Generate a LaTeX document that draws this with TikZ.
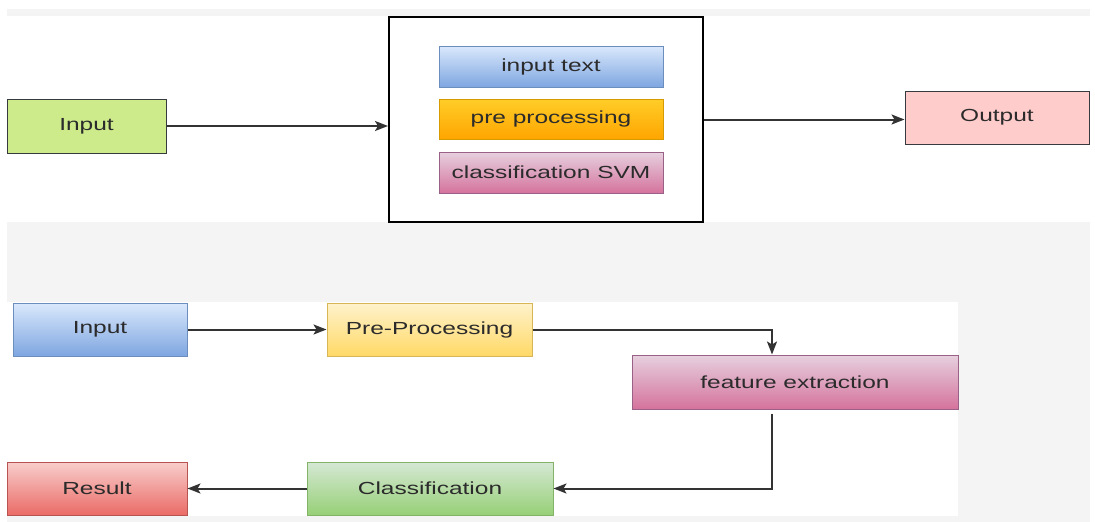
\documentclass[tikz,border=0pt]{standalone}
\usepackage{fontspec}
\setmainfont{Liberation Sans}[FakeStretch=1.4]
\usetikzlibrary{arrows.meta}
\definecolor{bggray}{HTML}{F4F4F4}
\definecolor{txt}{HTML}{2B2B2B}
\definecolor{ln}{HTML}{333333}
\definecolor{dk}{HTML}{36393D}
\definecolor{blueT}{HTML}{DAE8FC}\definecolor{blueB}{HTML}{7EA6E0}\definecolor{blueD}{HTML}{6C8EBF}
\definecolor{orT}{HTML}{FFCD28}\definecolor{orB}{HTML}{FFA500}\definecolor{orD}{HTML}{D79B00}
\definecolor{pkT}{HTML}{E6D0DE}\definecolor{pkB}{HTML}{D5739D}\definecolor{pkD}{HTML}{996185}
\definecolor{yeT}{HTML}{FFF2CC}\definecolor{yeB}{HTML}{FFD966}\definecolor{yeD}{HTML}{D6B656}
\definecolor{rdT}{HTML}{F8CECC}\definecolor{rdB}{HTML}{EA6B66}\definecolor{rdD}{HTML}{B85450}
\definecolor{grT}{HTML}{D5E8D4}\definecolor{grB}{HTML}{97D077}\definecolor{grD}{HTML}{82B366}
\definecolor{lime}{HTML}{CDEB8B}
\definecolor{rose}{HTML}{FFCCCC}
\tikzset{
  box/.style={rectangle, inner sep=0pt, text=txt, font=\fontsize{17.5}{20}\selectfont, line width=1pt},
  bluebox/.style={box, draw=blueD, top color=blueT, bottom color=blueB},
  orbox/.style={box, draw=orD, top color=orT, bottom color=orB},
  pkbox/.style={box, draw=pkD, top color=pkT, bottom color=pkB},
  yebox/.style={box, draw=yeD, top color=yeT, bottom color=yeB},
  rdbox/.style={box, draw=rdD, top color=rdT, bottom color=rdB},
  grbox/.style={box, draw=grD, top color=grT, bottom color=grB},
  conn/.style={draw=ln, line width=2pt, -{Stealth[length=13pt,width=10pt,inset=3pt]}},
}
\begin{document}
\begin{tikzpicture}[x=1pt,y=-1pt]
\useasboundingbox (0,0) rectangle (1095,522);
\fill[white] (0,0) rectangle (1095,522);
\fill[bggray] (7,9) rectangle (1090,522);
\fill[white] (7,16) rectangle (1090,222);
\fill[white] (7,302) rectangle (958,516);

% top diagram
\node[box, draw=dk, fill=lime, minimum width=159pt, minimum height=54pt] (in1) at (86.5,126) {Input};
\node[rectangle, draw=black, fill=white, line width=2pt, minimum width=314pt, minimum height=205pt] (big) at (546,119.5) {};
\node[bluebox, minimum width=224pt, minimum height=41pt] (t1) at (551,66.5) {input text};
\node[orbox, minimum width=224pt, minimum height=40pt] (t2) at (551,119) {pre processing};
\node[pkbox, minimum width=224pt, minimum height=41pt] (t3) at (551,172.5) {classification SVM};
\node[box, draw=dk, fill=rose, minimum width=184pt, minimum height=53pt] (out) at (997,117.5) {Output};
\draw[conn] (in1.east) -- (in1.east -| big.west);
\draw[conn] (big.east) -- (big.east -| out.west);

% bottom diagram
\node[bluebox, minimum width=174pt, minimum height=53pt] (in2) at (100,329.5) {Input};
\node[yebox, minimum width=205pt, minimum height=53pt] (pre) at (429.5,329.5) {Pre-Processing};
\node[pkbox, minimum width=326pt, minimum height=54pt] (fe) at (795,382) {feature extraction};
\node[rdbox, minimum width=180pt, minimum height=53pt] (res) at (97,488.5) {Result};
\node[grbox, minimum width=246pt, minimum height=53pt] (cls) at (430,488.5) {Classification};
\coordinate (k1) at (772,329.5);
\coordinate (k2) at (772,488.5);
\draw[conn] (in2.east) -- (pre.west);
\draw[conn] (pre.east) -- (k1) -- (k1 |- fe.north);
\draw[conn] ([yshift=-4pt]k1 |- fe.south) -- (k2) -- (cls.east);
\draw[conn] (cls.west) -- (res.east);
\end{tikzpicture}
\end{document}
